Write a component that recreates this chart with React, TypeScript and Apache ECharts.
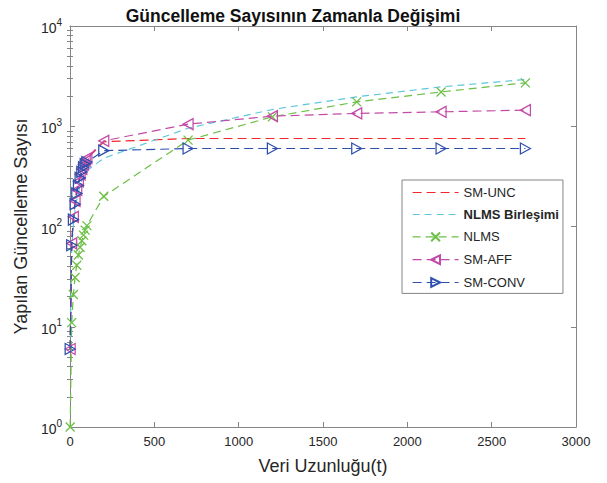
import React, { useEffect, useRef } from "react";
import * as echarts from "echarts";

// ---- Data ----
const xVals = [1, 10, 20, 30, 40, 50, 60, 70, 80, 90, 100, 200, 700, 1200, 1700, 2200, 2700];
const smUnc = [6, 66, 122, 175, 225, 275, 320, 365, 405, 440, 470, 700, 755, 755, 755, 755, 755];
const nlmsBirlesimi = [6, 60, 105, 145, 185, 220, 255, 285, 315, 340, 360, 480, 955, 1470, 1965, 2470, 2930];
const nlms = [1, 11, 21, 31, 41, 52, 62, 72, 82, 92, 102, 200, 727, 1241, 1750, 2200, 2710];
const smAff = [6, 68, 125, 180, 232, 282, 330, 375, 415, 450, 480, 715, 1050, 1262, 1343, 1393, 1448];
const smConv = [6, 65, 117, 167, 214, 258, 305, 350, 390, 420, 440, 570, 600, 600, 600, 600, 600];

const seriesNames = ["SM-UNC", "NLMS Birleşimi", "NLMS", "SM-AFF", "SM-CONV"];
const noMarkerSeries = ["SM-UNC", "NLMS Birleşimi"];

const FONT = "'Liberation Sans', Arial, Helvetica, sans-serif";
const AXIS_COLOR = "#858585";
const TEXT_COLOR = "#262626";

const pairs = (ys: number[]) => xVals.map((x, i) => [x, ys[i]]);

// minor tick positions in log space (2..9 of each decade)
const minorLog: number[] = [];
for (let d = 0; d < 4; d++) {
  for (let k = 2; k <= 9; k++) minorLog.push(Math.log10(k * Math.pow(10, d)));
}

const SQUARE = "path://M0,0L10,0L10,10L0,10Z";
const TRANSPARENT = "rgba(0,0,0,0)";

export default function App() {
  const ref = useRef<HTMLDivElement>(null);
  useEffect(() => {
    if (!ref.current) return;
    const chart = echarts.init(ref.current, undefined, { renderer: "svg" });

    const mk = (
      name: string,
      data: number[],
      color: string,
      dash: number[],
      symbol: string,
      symbolSize: number | number[],
      showSymbol: boolean
    ) => ({
      name,
      type: "line",
      xAxisIndex: 0,
      yAxisIndex: 0,
      data: pairs(data),
      symbol,
      symbolSize,
      showSymbol,
      symbolKeepAspect: false,
      lineStyle: { color, width: 1.2, type: dash },
      itemStyle: { color: "none", borderColor: color, borderWidth: 1.3 },
      emphasis: { disabled: true },
      z: 2,
    });

    const tickAxisBase = {
      type: "value",
      min: 0,
      max: 4,
      axisLine: { show: false },
      axisLabel: { show: false },
      splitLine: { show: false },
      axisTick: {
        show: true,
        inside: true,
        length: 3,
        customValues: minorLog,
        lineStyle: { color: AXIS_COLOR, width: 1 },
      },
    };

    chart.setOption({
      animation: false,
      backgroundColor: "#ffffff",
      textStyle: { fontFamily: FONT },
      title: {
        text: "Güncelleme Sayısının Zamanla Değişimi",
        left: 288,
        top: 2,
        textAlign: "center",
        textStyle: { fontFamily: FONT, fontSize: 17.5, fontWeight: "bold", color: "#111" },
      },
      grid: { left: 70, right: 31, top: 26, bottom: 56, containLabel: false },
      legend: {
        orient: "vertical",
        left: 402,
        top: 180,
        backgroundColor: "#ffffff",
        borderColor: AXIS_COLOR,
        borderWidth: 1,
        borderRadius: 0,
        padding: [6, 4, 4, 10],
        itemWidth: 46,
        itemHeight: 11,
        itemGap: 9,
        lineStyle: { width: 1.2 },
        textStyle: { fontFamily: FONT, fontSize: 13, color: TEXT_COLOR },
        data: seriesNames.map((n) => {
          const item: any = { name: n };
          if (n === "NLMS Birleşimi") item.textStyle = { fontWeight: "bold" };
          if (noMarkerSeries.includes(n))
            item.itemStyle = { color: TRANSPARENT, borderColor: TRANSPARENT, borderWidth: 0 };
          return item;
        }),
      },
      xAxis: [
        {
          type: "value",
          min: 0,
          max: 3000,
          interval: 500,
          position: "bottom",
          name: "Veri Uzunluğu(t)",
          nameLocation: "middle",
          nameGap: 30,
          nameTextStyle: { fontFamily: FONT, fontSize: 18, color: TEXT_COLOR },
          axisLine: { show: true, onZero: false, lineStyle: { color: AXIS_COLOR, width: 1 } },
          axisTick: { show: true, inside: true, length: 5, lineStyle: { color: AXIS_COLOR } },
          axisLabel: {
            fontFamily: FONT,
            fontSize: 13,
            color: TEXT_COLOR,
            margin: 8,
            formatter: (v: number) => String(v),
          },
          splitLine: { show: false },
        },
        {
          type: "value",
          min: 0,
          max: 3000,
          interval: 500,
          position: "top",
          axisLine: { show: true, onZero: false, lineStyle: { color: AXIS_COLOR, width: 1 } },
          axisTick: { show: true, inside: true, length: 5, lineStyle: { color: AXIS_COLOR } },
          axisLabel: { show: false },
          splitLine: { show: false },
        },
      ],
      yAxis: [
        {
          type: "log",
          logBase: 10,
          min: 1,
          max: 10000,
          position: "left",
          name: "Yapılan Güncelleme Sayısı",
          nameLocation: "middle",
          nameGap: 39,
          nameTextStyle: { fontFamily: FONT, fontSize: 18, color: TEXT_COLOR },
          axisLine: { show: true, onZero: false, lineStyle: { color: AXIS_COLOR, width: 1 } },
          axisTick: { show: true, inside: true, length: 5, lineStyle: { color: AXIS_COLOR } },
          axisLabel: {
            margin: 8,
            formatter: (v: number) => `{b|10}{s|${Math.round(Math.log10(v))}}`,
            rich: {
              b: { fontFamily: FONT, fontSize: 14, color: TEXT_COLOR, lineHeight: 18, verticalAlign: "bottom" },
              s: { fontFamily: FONT, fontSize: 10, color: TEXT_COLOR, lineHeight: 12, verticalAlign: "top" },
            },
          },
          splitLine: { show: false },
        },
        { ...tickAxisBase, position: "left" },
        {
          type: "log",
          logBase: 10,
          min: 1,
          max: 10000,
          position: "right",
          axisLine: { show: true, onZero: false, lineStyle: { color: AXIS_COLOR, width: 1 } },
          axisTick: { show: true, inside: true, length: 5, lineStyle: { color: AXIS_COLOR } },
          axisLabel: { show: false },
          splitLine: { show: false },
        },
        { ...tickAxisBase, position: "right" },
      ],
      series: [
        mk("SM-UNC", smUnc, "#f5262b", [9, 5], SQUARE, 1, false),
        mk("NLMS Birleşimi", nlmsBirlesimi, "#5cc7dc", [7, 5], SQUARE, 1, false),
        mk("NLMS", nlms, "#6cbf45", [8, 5], "path://M0,0L10,10M10,0L0,10", 9, true),
        mk("SM-AFF", smAff, "#c34aa6", [9, 5], "path://M0,5L10,0L10,10Z", [10, 11], true),
        mk("SM-CONV", smConv, "#2f4fae", [9, 5], "path://M10,5L0,0L0,10Z", [10, 11], true),
      ],
    });

    return () => chart.dispose();
  }, []);

  return (
    <div
      ref={ref}
      style={{ position: "fixed", left: 0, top: 0, width: 607, height: 483, background: "#fff" }}
    />
  );
}
